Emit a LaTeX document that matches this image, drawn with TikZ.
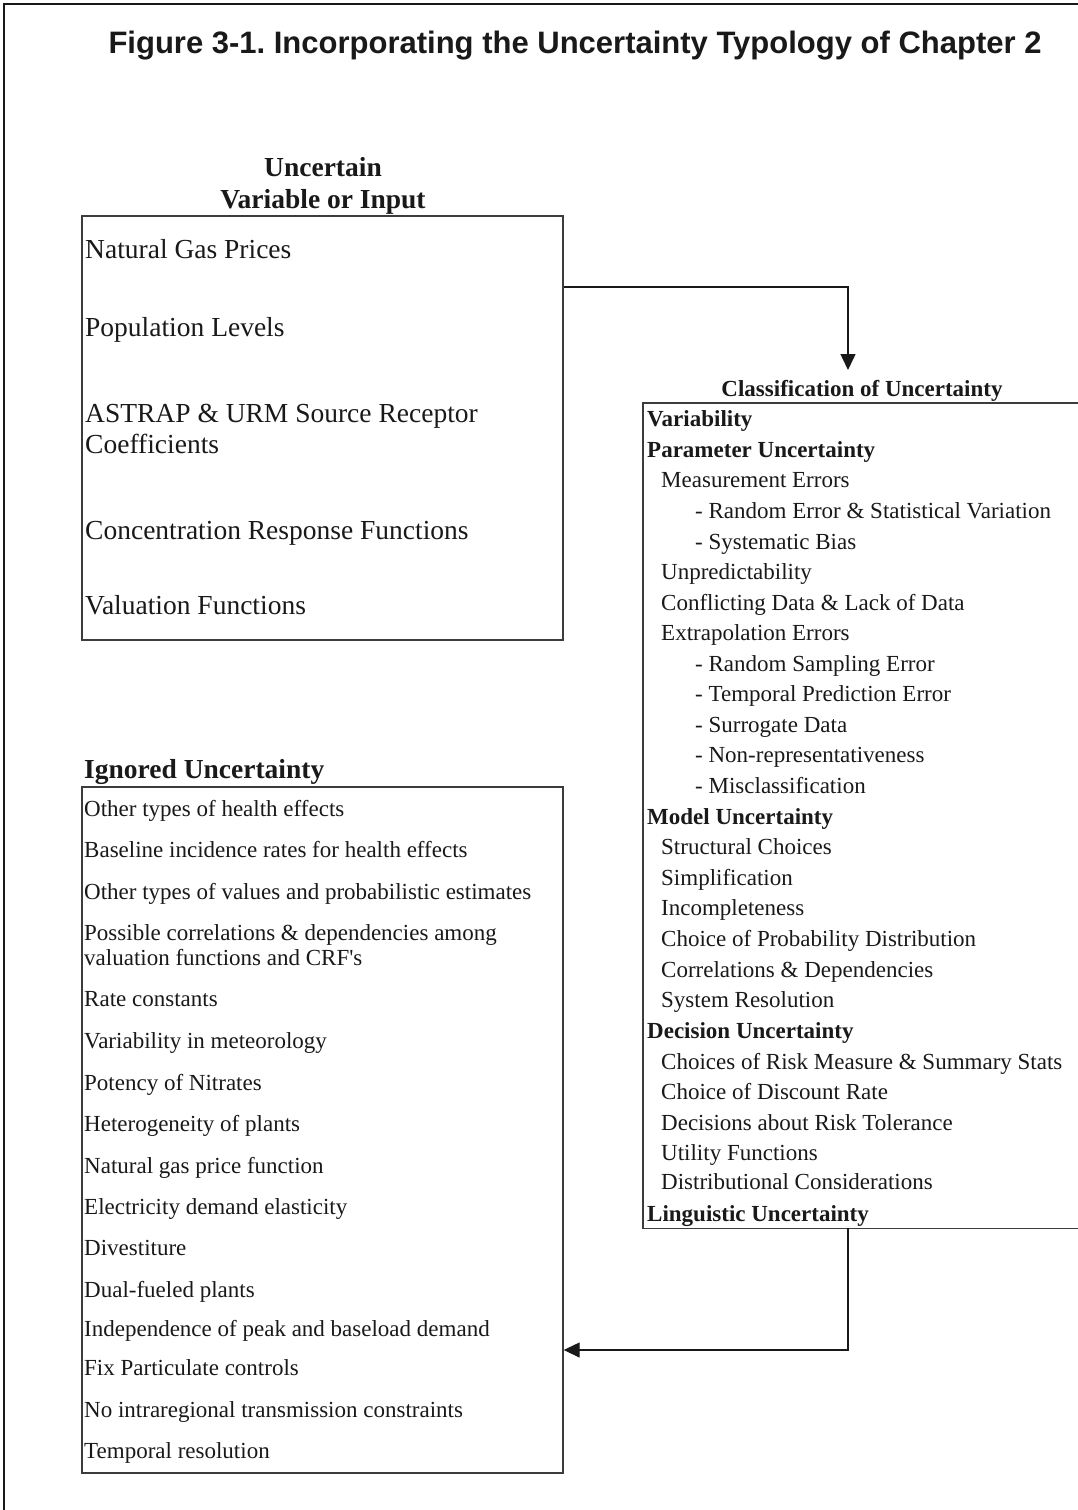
\documentclass[tikz,border=0pt]{standalone}
\usepackage{fontspec}
\setmainfont{Liberation Serif}
\newfontfamily\titlefont{Liberation Sans}
\usetikzlibrary{arrows.meta,calc}
\definecolor{ink}{RGB}{25,25,25}
\definecolor{boxc}{RGB}{60,60,60}
\begin{document}
\frenchspacing
\begin{tikzpicture}[x=1pt,y=-1pt,
  txt/.style={inner sep=0pt, anchor=west, text height=0.7em, text depth=0.2em, text=ink, yshift=-6pt},
  small/.style={txt, font=\fontsize{23}{27}\selectfont},
  bsmall/.style={txt, font=\fontsize{23}{27}\selectfont\bfseries},
  big/.style={txt, font=\fontsize{27.5}{32}\selectfont},
  bighead/.style={txt, font=\fontsize{27.5}{32}\selectfont\bfseries},
  frameline/.style={draw=ink, line width=2pt},
  boxline/.style={draw=boxc, line width=1.4pt},
  arr/.style={draw=ink, line width=1.4pt, -{Triangle[length=16pt,width=15pt]}},
]
\useasboundingbox (0,0) rectangle (1078,1510);
\fill[white] (0,0) rectangle (1078,1510);
% outer frame (top and left only)
\draw[frameline] (1078,4) -- (4,4) -- (4,1510);
% title
\node[text=ink, font=\titlefont\bfseries\fontsize{31}{36}\selectfont, inner sep=0pt] (title) at (575,46) {Figure 3-1. Incorporating the Uncertainty Typology of Chapter 2};

% box 1
\node[bighead, anchor=center] (h1a) at (323,168) {Uncertain};
\node[bighead, anchor=center] (h1b) at (323,200) {Variable or Input};
\node[boxline, minimum width=481pt, minimum height=424pt, inner sep=0pt] (inbox) at (322.5,428) {};
\node[big] (i1) at (85,250) {Natural Gas Prices};
\node[big] (i2) at (85,328) {Population Levels};
\node[big] (i3) at (85,414) {ASTRAP \& URM Source Receptor};
\node[big] (i3b) at (85,445) {Coefficients};
\node[big] (i4) at (85,531) {Concentration Response Functions};
\node[big] (i5) at (85,606) {Valuation Functions};

% box 2
\node[bsmall, anchor=center] (clshead) at (862,388) {Classification of Uncertainty};
\coordinate (a1end) at (848,370);
\node[minimum width=442pt, minimum height=825pt, inner sep=0pt] (cls) at (864,815.5) {};
\draw[boxline] (cls.north east) -- (cls.north west) -- (cls.south west) -- (cls.south east);
\node[bsmall] (c1) at (647,418) {Variability};
\node[bsmall] (c2) at (647,449) {Parameter Uncertainty};
\node[small] (c3) at (661,479) {Measurement Errors};
\node[small] (c4) at (695,510) {- Random Error \& Statistical Variation};
\node[small] (c5) at (695,541) {- Systematic Bias};
\node[small] (c6) at (661,571) {Unpredictability};
\node[small] (c7) at (661,602) {Conflicting Data \& Lack of Data};
\node[small] (c8) at (661,632) {Extrapolation Errors};
\node[small] (c9) at (695,663) {- Random Sampling Error};
\node[small] (c10) at (695,693) {- Temporal Prediction Error};
\node[small] (c11) at (695,724) {- Surrogate Data};
\node[small] (c12) at (695,754) {- Non-representativeness};
\node[small] (c13) at (695,785) {- Misclassification};
\node[bsmall] (c14) at (647,816) {Model Uncertainty};
\node[small] (c15) at (661,846) {Structural Choices};
\node[small] (c16) at (661,877) {Simplification};
\node[small] (c17) at (661,907) {Incompleteness};
\node[small] (c18) at (661,938) {Choice of Probability Distribution};
\node[small] (c19) at (661,969) {Correlations \& Dependencies};
\node[small] (c20) at (661,999) {System Resolution};
\node[bsmall] (c21) at (647,1030) {Decision Uncertainty};
\node[small] (c22) at (661,1061) {Choices of Risk Measure \& Summary Stats};
\node[small] (c23) at (661,1091) {Choice of Discount Rate};
\node[small] (c24) at (661,1122) {Decisions about Risk Tolerance};
\node[small] (c25) at (661,1152) {Utility Functions};
\node[small] (c26) at (661,1181) {Distributional Considerations};
\node[bsmall] (c27) at (647,1213) {Linguistic Uncertainty};

% box 3
\node[bighead] (h3) at (84,770) {Ignored Uncertainty};
\node[boxline, minimum width=481pt, minimum height=686pt, inner sep=0pt] (ignbox) at (322.5,1130) {};
\node[small] (g1) at (84,808) {Other types of health effects};
\node[small] (g2) at (84,849) {Baseline incidence rates for health effects};
\node[small] (g3) at (84,891) {Other types of values and probabilistic estimates};
\node[small] (g4) at (84,932) {Possible correlations \& dependencies among};
\node[small] (g4b) at (84,957) {valuation functions and CRF\textquotesingle s};
\node[small] (g5) at (84,998) {Rate constants};
\node[small] (g6) at (84,1040) {Variability in meteorology};
\node[small] (g7) at (84,1082) {Potency of Nitrates};
\node[small] (g8) at (84,1123) {Heterogeneity of plants};
\node[small] (g9) at (84,1165) {Natural gas price function};
\node[small] (g10) at (84,1206) {Electricity demand elasticity};
\node[small] (g11) at (84,1247) {Divestiture};
\node[small] (g12) at (84,1289) {Dual-fueled plants};
\node[small] (g13) at (84,1328) {Independence of peak and baseload demand};
\node[small] (g14) at (84,1367) {Fix Particulate controls};
\node[small] (g15) at (84,1409) {No intraregional transmission constraints};
\node[small] (g16) at (84,1450) {Temporal resolution};

% connectors
\draw[arr] (inbox.east |- 0,287) -| (a1end);
\draw[arr] (cls.south -| 848,0) |- (ignbox.east |- 0,1350);
\end{tikzpicture}
\end{document}
